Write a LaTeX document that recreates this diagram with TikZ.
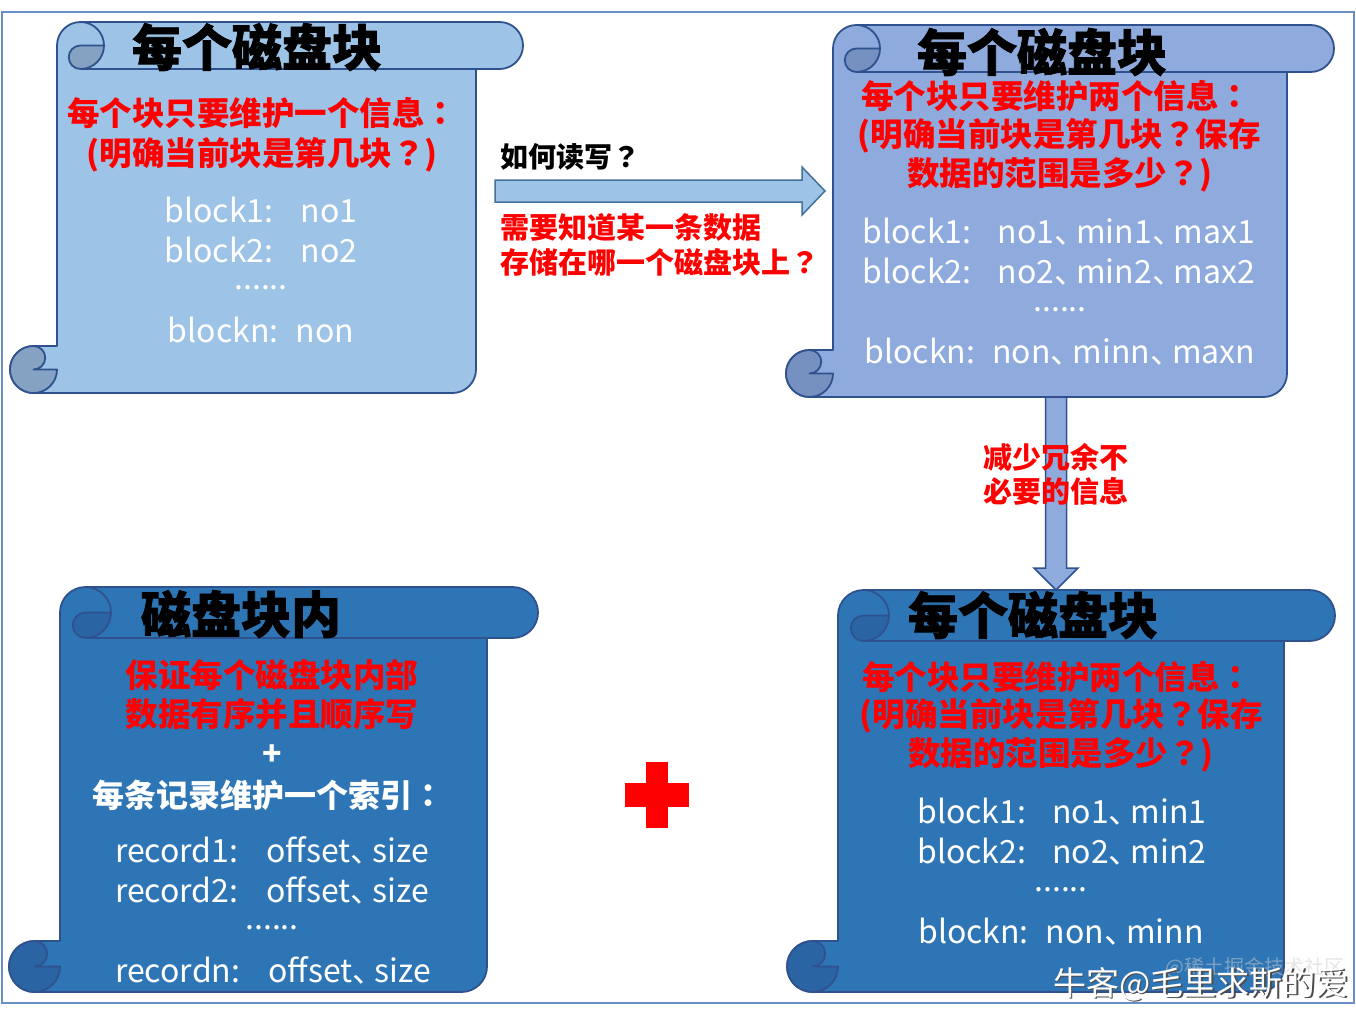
\documentclass[tikz,border=0pt]{standalone}
\usepackage{fontspec}
\usetikzlibrary{calc}
\newfontfamily\cjk{Noto Sans CJK SC}
\newfontfamily\cjktc{Noto Sans CJK TC}
\newfontfamily\cjkheavy{Noto Sans CJK SC}[BoldFeatures={FakeBold=1.5}]
\definecolor{sonefill}{HTML}{9DC3E6}
\definecolor{sonedark}{HTML}{86A2C3}
\definecolor{stwofill}{HTML}{8FAADC}
\definecolor{stwodark}{HTML}{7690C0}
\definecolor{sthrfill}{HTML}{2E75B6}
\definecolor{sthrdark}{HTML}{2A64A3}
\definecolor{sline}{HTML}{2F528F}
\definecolor{aline}{HTML}{41719C}
\definecolor{bordercol}{HTML}{6A8FC7}
\newcommand\dun{\makebox[22pt][l]{、}}
\newcommand\qc{{\cjktc ：}}
\newcommand\qm{{\cjktc ？}}
\newcommand\myscroll[8]{%
  \pgfmathsetmacro\sL{#1}\pgfmathsetmacro\sT{#2}%
  \pgfmathsetmacro\sR{#3}\pgfmathsetmacro\sB{#4}%
  \pgfmathsetmacro\cH{#5}\pgfmathsetmacro\cHh{#5/2}\pgfmathsetmacro\cHq{#5/4}%
  \draw[fill=#6, draw=#8, line width=1.8pt, line join=round]
    (\sL+\cH+\cHh, \sT) -- (\sR-\cHh, \sT) arc[start angle=-90, end angle=90, radius=\cHh]
    -- (\sR-\cH, \sT+\cH) -- (\sR-\cH, \sB-\cHh) arc[start angle=0, end angle=90, radius=\cHh]
    -- (\sL+\cHh, \sB) arc[start angle=90, end angle=270, radius=\cHh]
    -- (\sL+\cH, \sB-\cH) -- (\sL+\cH, \sT+\cHh) arc[start angle=180, end angle=270, radius=\cHh] -- cycle;
  \draw[fill=#7, draw=#8, line width=1.8pt, line join=round]
    (\sL+2*\cH, \sT+\cHh) -- (\sL+\cH+\cHh, \sT+\cHh)
    arc[start angle=-90, end angle=-270, radius=\cHq]
    arc[start angle=90, end angle=0, radius=\cHh] -- cycle;
  \draw[draw=#8, line width=1.8pt] (\sL+\cH+\cHh, \sT) arc[start angle=-90, end angle=0, radius=\cHh];
  \draw[draw=#8, line width=1.8pt] (\sL+\cH+\cHh, \sT+\cH) -- (\sR-\cHh, \sT+\cH);
  \draw[fill=#7, draw=#8, line width=1.8pt, line join=round]
    (\sL+\cHh, \sB-\cH) arc[start angle=-90, end angle=90, radius=\cHq]
    -- (\sL+\cH, \sB-\cHh) arc[start angle=0, end angle=270, radius=\cHh] -- cycle;
}
\begin{document}
\begin{tikzpicture}[x=1pt,y=-1pt,
  every node/.style={inner sep=0pt, outer sep=0pt},
  titlet/.style={font=\cjkheavy\bfseries\fontsize{50}{50}\selectfont, text=black},
  redt/.style={font=\cjk\bfseries\fontsize{32.5}{40}\selectfont, text=red},
  redl/.style={font=\cjk\bfseries\fontsize{29}{34}\selectfont, text=red, anchor=west},
  blackl/.style={font=\cjk\bfseries\fontsize{28}{34}\selectfont, text=black, anchor=west},
  whitet/.style={font=\cjk\fontsize{32}{40}\selectfont, text=white},
  whiteb/.style={font=\cjk\bfseries\fontsize{32}{40}\selectfont, text=white},
  wmark/.style={font=\cjk\fontsize{33}{33}\selectfont},
  blockarrow/.style={line width=1.5pt, line join=miter}]
\useasboundingbox (0,0) rectangle (1356,1010);
\fill[white] (0,0) rectangle (1356,1010);
\draw[bordercol, line width=1.5pt] (2,12) rectangle (1354,1003);

% arrows
\coordinate (a1s) at (495,191);
\coordinate (a1t) at (825,191);
\draw[blockarrow, fill=sonefill, draw=aline]
  ($(a1s)+(0,-11)$) -- ($(a1t)+(-23,-11)$) -- ($(a1t)+(-23,-24)$) -- (a1t)
  -- ($(a1t)+(-23,24)$) -- ($(a1t)+(-23,11)$) -- ($(a1s)+(0,11)$) -- cycle;
\coordinate (a2s) at (1056,397);
\coordinate (a2t) at (1056,590);
\draw[blockarrow, fill=stwofill, draw=sline]
  ($(a2s)+(-10.5,0)$) -- ($(a2t)+(-10.5,-22)$) -- ($(a2t)+(-22,-22)$) -- (a2t)
  -- ($(a2t)+(22,-22)$) -- ($(a2t)+(10.5,-22)$) -- ($(a2s)+(10.5,0)$) -- cycle;

% scrolls
\myscroll{10}{22}{523}{393}{47}{sonefill}{sonedark}{sline}
\myscroll{786}{25}{1334}{397}{47}{stwofill}{stwodark}{sline}
\myscroll{9}{587}{538}{992}{51}{sthrfill}{sthrdark}{sline}
\myscroll{787}{590}{1335}{992}{51}{sthrfill}{sthrdark}{sline}

% scroll 1 text
\node[titlet] (t1) at (257,47) {每个磁盘块};
\node[redt] (r1a) at (262,113) {每个块只要维护一个信息\qc};
\node[redt] (r1b) at (262,155) {(明确当前块是第几块\qm)};
\node[whitet] (w1a) at (261,210) {block1:\hspace{27pt}no1};
\node[whitet] (w1b) at (261,250) {block2:\hspace{27pt}no2};
\node[whitet] (w1c) at (261,288) {......};
\node[whitet] (w1d) at (261,330) {blockn:\hspace{17pt}non};

% scroll 2 text
\node[titlet] (t2) at (1042,52) {每个磁盘块};
\node[redt] (r2a) at (1056,96) {每个块只要维护两个信息\qc};
\node[redt] (r2b) at (1059,136) {(明确当前块是第几块\qm 保存};
\node[redt] (r2c) at (1060,175) {数据的范围是多少\qm)};
\node[whitet] (w2a) at (1059,232) {block1:\hspace{26pt}no1\dun min1\dun max1};
\node[whitet] (w2b) at (1059,272) {block2:\hspace{26pt}no2\dun min2\dun max2};
\node[whitet] (w2c) at (1060,310) {......};
\node[whitet] (w2d) at (1060,352) {blockn:\hspace{17pt}non\dun minn\dun maxn};

% scroll 3 text
\node[titlet] (t3) at (241,614) {磁盘块内};
\node[redt] (r3a) at (272,675) {保证每个磁盘块内部};
\node[redt] (r3b) at (272,714) {数据有序并且顺序写};
\node[whiteb] (p3) at (272,755) {+};
\node[whiteb] (w3i) at (268,795) {每条记录维护一个索引\qc};
\node[whitet] (w3a) at (272,850) {record1:\hspace{28pt}offset\dun size};
\node[whitet] (w3b) at (272,890) {record2:\hspace{28pt}offset\dun size};
\node[whitet] (w3c) at (272,928) {......};
\node[whitet] (w3d) at (273,970) {recordn:\hspace{28pt}offset\dun size};

% scroll 4 text
\node[titlet] (t4) at (1033,615) {每个磁盘块};
\node[redt] (r4a) at (1057,677) {每个块只要维护两个信息\qc};
\node[redt] (r4b) at (1061,716) {(明确当前块是第几块\qm 保存};
\node[redt] (r4c) at (1061,755) {数据的范围是多少\qm)};
\node[whitet] (w4a) at (1062,812) {block1:\hspace{26pt}no1\dun min1};
\node[whitet] (w4b) at (1062,852) {block2:\hspace{26pt}no2\dun min2};
\node[whitet] (w4c) at (1061,890) {......};
\node[whitet] (w4d) at (1061,932) {blockn:\hspace{17pt}non\dun minn};

% arrow labels
\node[blackl] (q1) at (500,157) {如何读写\qm};
\node[redl] (n1) at (500,228) {需要知道某一条数据};
\node[redl] (n2) at (500,262) {存储在哪一个磁盘块上\qm};
\node[redl] (m1) at (983,457) {减少冗余不};
\node[redl] (m2) at (983,491) {必要的信息};

% red plus
\fill[red] (625,783) rectangle (689,807);
\fill[red] (646,762) rectangle (668,828);

% watermark
\node[font=\cjk\fontsize{20}{20}\selectfont, text=gray!40, opacity=0.5] (wm2) at (1255,968) {@稀土掘金技术社区};
\node[wmark, text=black!70] (wm1s) at (1202.5,985.5) {牛客@毛里求斯的爱};
\node[wmark, text=white] (wm1) at (1201,984) {牛客@毛里求斯的爱};
\end{tikzpicture}
\end{document}
